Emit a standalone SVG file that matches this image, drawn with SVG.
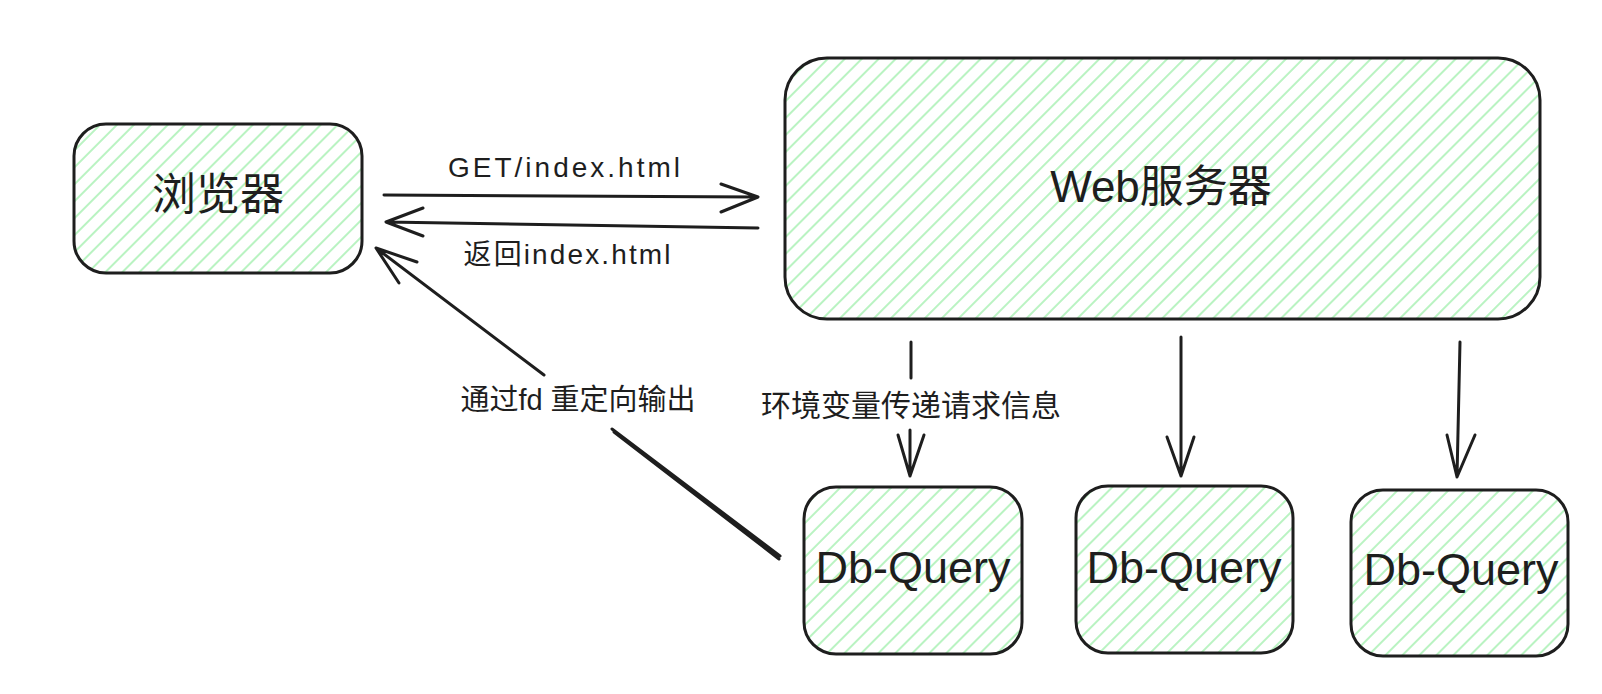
<svg xmlns="http://www.w3.org/2000/svg" width="1602" height="694" viewBox="0 0 1602 694">
<defs>
<pattern id="hatch" patternUnits="userSpaceOnUse" width="12" height="12" patternTransform="rotate(45)">
<line x1="3" y1="-1" x2="3" y2="13" stroke="#b2f2bb" stroke-width="1.8"/>
</pattern>
<style>
.box{fill:url(#hatch);stroke:#1e1e1e;stroke-width:3}
.edge{fill:none;stroke:#1e1e1e;stroke-width:3;stroke-linecap:round;stroke-linejoin:round}
.t{fill:#1e1e1e;font-family:"Liberation Sans","Noto Sans CJK SC",sans-serif;text-anchor:middle}
</style>
</defs>
<rect width="1602" height="694" fill="#ffffff"/>
<g id="browser">
<rect class="box" x="74" y="124" width="288" height="149" rx="32"/>
<text class="t" x="218" y="210" font-size="44">浏览器</text>
</g>
<g id="web">
<rect class="box" x="785" y="58" width="755" height="261" rx="42"/>
<text class="t" x="1161" y="202" font-size="44">Web服务器</text>
</g>
<g id="db1">
<rect class="box" x="804" y="487" width="218" height="167" rx="32"/>
<text class="t" x="913" y="583" font-size="45">Db-Query</text>
</g>
<g id="db2">
<rect class="box" x="1076" y="486" width="217" height="167" rx="32"/>
<text class="t" x="1184" y="583" font-size="45">Db-Query</text>
</g>
<g id="db3">
<rect class="box" x="1351" y="490" width="217" height="166" rx="32"/>
<text class="t" x="1461" y="585" font-size="45">Db-Query</text>
</g>
<g id="connectors">
<path class="edge" d="M384 195 L758 197 M721 184 L758 197 L721 212"/>
<text class="t" x="564" y="177" font-size="28" textLength="232" lengthAdjust="spacing">GET/index.html</text>
<path class="edge" d="M758 228 L386 222 M423 208 L386 222 L423 236"/>
<text class="t" x="567" y="264" font-size="28" textLength="207" lengthAdjust="spacing">返回index.html</text>
<path class="edge" d="M376 248 L544 375 M612 429 L780 556 M614 432 L779 559 M417 262 L376 248 L399 283"/>
<text class="t" x="578" y="410" font-size="29">通过fd 重定向输出</text>
<path class="edge" d="M911 342 L911 378 M910 430 L910 476 M898 435 L910 476 L924 435"/>
<text class="t" x="911" y="416" font-size="30">环境变量传递请求信息</text>
<path class="edge" d="M1181 337 L1181 476 M1167 437 L1181 476 L1194 437"/>
<path class="edge" d="M1460 342 L1457 477 M1447 435 L1457 477 L1475 435"/>
</g>
</svg>
